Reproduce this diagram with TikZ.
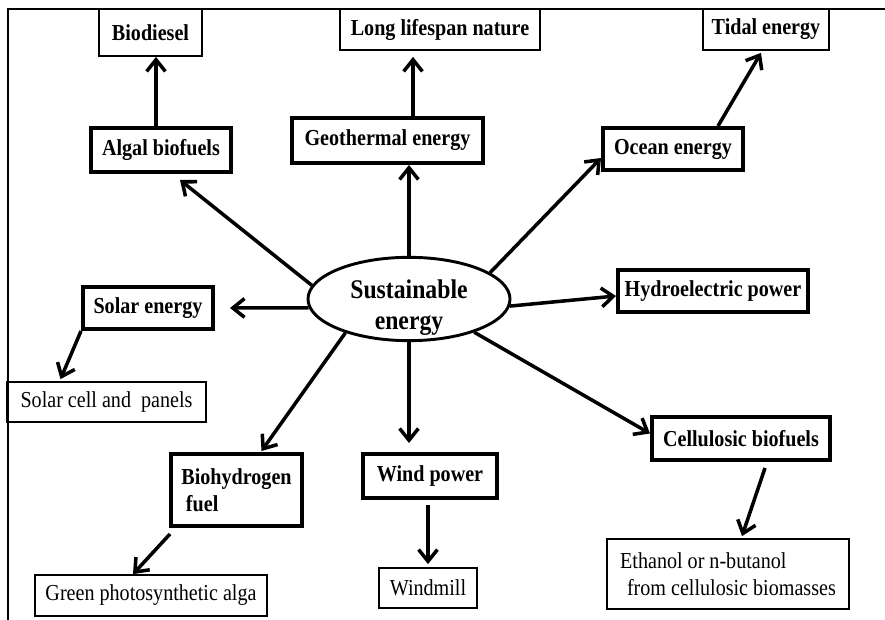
\documentclass[tikz,border=0pt]{standalone}
\usepackage{fontspec}
\setmainfont{Liberation Serif}[FakeStretch=0.88]
\usetikzlibrary{shapes.geometric,arrows.meta,calc}

\begin{document}
\begin{tikzpicture}[x=0.03cm, y=-0.03cm, main/.style={draw, ellipse, minimum width=6.06cm, minimum height=2.5cm, line width=2.5pt, inner sep=0pt}, title/.style={align=center, inner sep=0pt, font=\fontsize{23}{26.5}\selectfont\bfseries}, src/.style={draw, rectangle, line width=3.4pt, inner sep=0pt, font=\fontsize{19.5}{23}\selectfont\bfseries}, leaf/.style={draw, rectangle, line width=1.5pt, inner sep=0pt, font=\fontsize{19.5}{23}\selectfont}, n/.style={-{Straight Barb[length=10pt, width=16pt]}, line width=3pt}]
    \useasboundingbox (0,0) rectangle (885,620);
    % frame
    \draw[line width=2.2pt] (885,9) -- (8,9) -- (8,620);
    % nodes
    \node[main] (energy) at (409,299) {};
    \node[title] (energytext) at ($(energy)+(0,9)$) {Sustainable\\energy};
    \node[src, minimum width=4.2cm, minimum height=1.32cm] (algal) at (161,150) {Algal biofuels};
    \node[leaf, minimum width=3.09cm, minimum height=1.41cm] (biodiesel) at (150.5,32.5) {\bfseries Biodiesel};
    \node[src, minimum width=5.73cm, minimum height=1.35cm] (geo) at (387.5,140.5) {Geothermal energy};
    \node[leaf, minimum width=6cm, minimum height=1.23cm] (long) at (440,29.5) {\bfseries Long lifespan nature};
    \node[src, minimum width=4.2cm, minimum height=1.26cm] (ocean) at (673,149) {Ocean energy};
    \node[leaf, minimum width=3.78cm, minimum height=1.23cm] (tidal) at (766,29.5) {\bfseries Tidal energy};
    \node[src, minimum width=3.9cm, minimum height=1.26cm] (solar) at (148,308) {Solar energy};
    \node[leaf, minimum width=5.97cm, minimum height=1.2cm] (cell) at (106.5,402) {Solar cell and \ panels};
    \node[src, minimum width=5.7cm, minimum height=1.26cm] (hydro) at (713,291) {Hydroelectric power};
    \node[src, minimum width=5.34cm, minimum height=1.29cm] (cellfuel) at (741,438.5) {Cellulosic biofuels};
    \node[leaf, minimum width=7.26cm, minimum height=2.1cm, align=left] (ethanol) at (728,574) {Ethanol or n-butanol\\\hspace{0.3em}from cellulosic biomasses};
    \node[src, minimum width=3.93cm, minimum height=2.16cm, align=left] (biohyd) at (236.5,490) {Biohydrogen\\\hspace{0.2em}fuel};
    \node[leaf, minimum width=6.96cm, minimum height=1.23cm] (green) at (151,595.5) {Green photosynthetic alga};
    \node[src, minimum width=4.02cm, minimum height=1.32cm] (wind) at (430,476) {Wind power};
    \node[leaf, minimum width=2.94cm, minimum height=1.2cm] (mill) at (428,588) {Windmill};
    % edges
    \draw[n] (energy.172) -- ($(algal.south)+(19,6)$);
    \draw[n] ($(algal.north)+(-5,0)$) -- ($(biodiesel.south)+(5.5,0)$);
    \draw[n] (energy.north) -- (energy.north |- geo.south);
    \draw[n] ($(geo.north)+(25.5,0)$) -- ($(long.south)+(-27,6)$);
    \draw[n] (energy.18) -- ($(ocean.west)+(0,9)$);
    \draw[n] ($(ocean.north)+(45,0)$) -- ($(tidal.south)+(-5,2)$);
    \draw[n] (energy.185) -- ($(solar.east)+(15,0)$);
    \draw[n] (solar.south west) -- ($(cell.north)+(-46,-2)$);
    \draw[n] (energy.-4) -- ($(hydro.west)+(0,5)$);
    \draw[n] (energy.-27) -- ($(cellfuel.west)+(0,-5)$);
    \draw[n] ($(cellfuel.south)+(24,6)$) -- ($(ethanol.north)+(14,-2)$);
    \draw[n] (energy.208) -- ($(biohyd.north)+(25,-1)$);
    \draw[n] ($(biohyd.south west)+(1,6)$) -- ($(green.north)+(-18,0)$);
    \draw[n] (energy.south) -- ($(energy.south |- wind.north)+(0,-9)$);
    \draw[n] ($(wind.south)+(-2,5)$) -- ($(mill.north)+(0,-3)$);
\end{tikzpicture}
\end{document}
